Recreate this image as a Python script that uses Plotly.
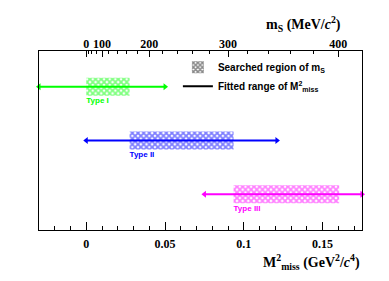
import plotly.graph_objects as go

# ---- data ----
types = ["Type I", "Type II", "Type III"]
colors = ["#00ff00", "#0000ff", "#ff00ff"]
row_y = [0.8, 0.5, 0.2]
search_lo = [0.0, 0.0275, 0.0935]     # M^2_miss (GeV^2/c^4)
search_hi = [0.0275, 0.0935, 0.1605]
fit_lo = [-0.03, 0.0, 0.075]
fit_hi = [0.05, 0.121, 0.175]

ms_major = [0, 100, 200, 300, 400]        # MeV/c^2
ms_minor = list(range(0, 421, 20))
x_range = [-0.03, 0.175]

serif = "Liberation Serif"
sans = "Liberation Sans"

fig = go.Figure()

# hatched searched regions
for t, c, y, lo, hi in zip(types, colors, row_y, search_lo, search_hi):
    fig.add_trace(go.Bar(
        orientation="h", y=[y], x=[hi - lo], base=[lo], width=0.1,
        marker=dict(color=c, line=dict(width=0),
                    pattern=dict(shape="x", fgcolor=c, bgcolor="white",
                                 size=4, solidity=0.7)),
        showlegend=False, hoverinfo="skip"))

# fitted ranges (double arrows)
for t, c, y, lo, hi in zip(types, colors, row_y, fit_lo, fit_hi):
    fig.add_trace(go.Scatter(
        x=[lo, hi], y=[y, y], mode="lines+markers",
        line=dict(color=c, width=2),
        marker=dict(symbol=["triangle-left", "triangle-right"], size=6, color=c),
        cliponaxis=False, showlegend=False, hoverinfo="skip"))

# type labels
for t, c, y, lo in zip(types, colors, row_y, search_lo):
    fig.add_trace(go.Scatter(
        x=[lo], y=[y - 0.08], mode="text", text=[t],
        textposition="middle right",
        textfont=dict(family=sans, size=8, color=c, weight="bold"),
        showlegend=False, hoverinfo="skip"))

# legend entries
fig.add_trace(go.Bar(
    x=[None], y=[None], name="Searched region of m<sub>S</sub>",
    marker=dict(color="black", line=dict(width=0),
                pattern=dict(shape="x", fgcolor="#111", bgcolor="white",
                             size=4, solidity=0.7))))
fig.add_trace(go.Scatter(
    x=[None], y=[None], mode="lines", name="Fitted range of M<sup>2</sup><sub>miss</sub>",
    line=dict(color="black", width=2)))

# invisible trace on top axis
fig.add_trace(go.Scatter(x=[None], y=[None], xaxis="x2", showlegend=False))

fig.update_layout(
    width=389, height=281,
    margin=dict(l=31, r=35, t=43, b=59, autoexpand=False),
    paper_bgcolor="white", plot_bgcolor="white",
    barmode="overlay",
    xaxis=dict(range=x_range, showgrid=False, zeroline=False,
               showline=True, linecolor="black", linewidth=1, mirror=False,
               tickmode="array", tickvals=[0, 0.05, 0.1, 0.15],
               ticktext=["0", "0.05", "0.1", "0.15"],
               ticks="inside", ticklen=8, tickcolor="black",
               ticklabelstandoff=3,
               tickfont=dict(family=serif, size=12, color="black", weight="bold"),
               minor=dict(ticks="inside", ticklen=4, tickcolor="black",
                          dtick=0.01, tick0=0, showgrid=False)),
    xaxis2=dict(range=x_range, overlaying="x", side="top", showgrid=False,
                zeroline=False, showline=True, linecolor="black", linewidth=1,
                tickmode="array", tickvals=[(m / 1000) ** 2 for m in ms_major],
                ticktext=[str(m) for m in ms_major],
                ticks="inside", ticklen=6, tickcolor="black",
                ticklabelstandoff=-3,
                tickfont=dict(family=serif, size=12, color="black", weight="bold"),
                minor=dict(ticks="inside", ticklen=3, tickcolor="black",
                           tickmode="array",
                           tickvals=[(m / 1000) ** 2 for m in ms_minor],
                           showgrid=False)),
    yaxis=dict(range=[0, 1], showgrid=False, zeroline=False, showline=True,
               linecolor="black", linewidth=1, mirror=True,
               showticklabels=False, ticks=""),
    legend=dict(x=0.43, y=0.99, xanchor="left", yanchor="top",
                bgcolor="rgba(0,0,0,0)", itemwidth=30,
                font=dict(family=sans, size=10, color="black", weight="bold")),
    annotations=[
        dict(text="M<sup>2</sup><sub>miss</sub> (GeV<sup>2</sup>/<i>c</i><sup>4</sup>)",
             xref="paper", yref="paper", x=1.0, y=-0.18,
             xanchor="right", yanchor="middle", showarrow=False,
             font=dict(family=serif, size=14, color="black", weight="bold")),
        dict(text="m<sub>S</sub> (MeV/<i>c</i><sup>2</sup>)",
             xref="paper", yref="paper", x=0.941, y=1.15,
             xanchor="right", yanchor="middle", showarrow=False,
             font=dict(family=serif, size=14, color="black", weight="bold")),
    ],
)

fig.write_html("out.html")
